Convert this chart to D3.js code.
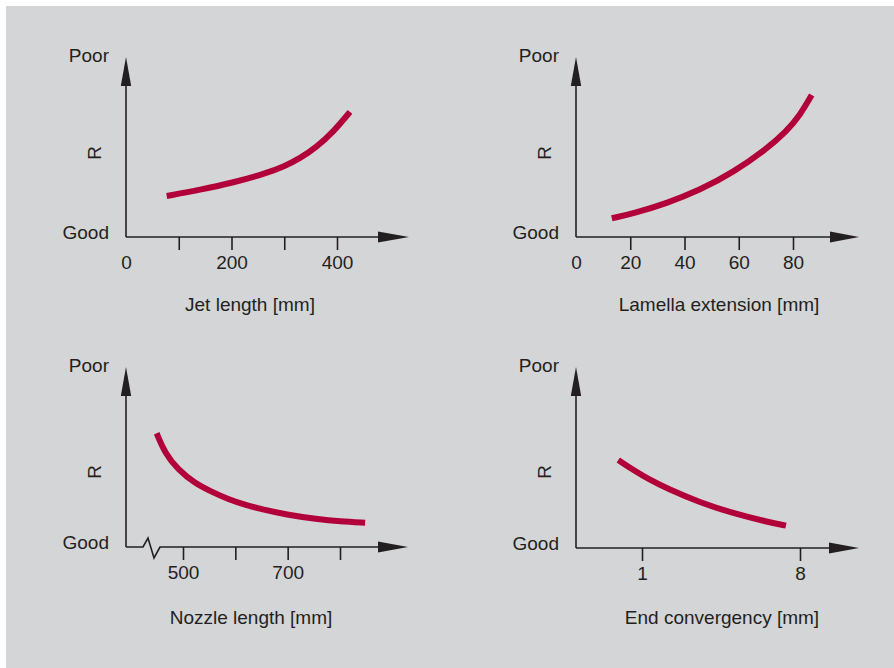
<!DOCTYPE html>
<html>
<head>
<meta charset="utf-8">
<script src="https://cdn.jsdelivr.net/npm/d3@7"></script>
<style>
  html, body { margin: 0; padding: 0; background: #ffffff; }
  svg { display: block; }
  text { font-family: "Liberation Sans", Arial, sans-serif; fill: #231f20; }
</style>
</head>
<body>
<svg id="chart" width="894" height="668"></svg>
<script>
// ---- data ----
const jetLength   = [77.2, 140.3, 203.4, 266.7, 298.2, 329.9, 361.5, 393.0, 424.6];
const jetR        = [2.28, 2.62, 3.02, 3.55, 3.9, 4.37, 5.0, 5.84, 6.95];
const jetTicks    = [0, 100, 200, 300, 400];
const jetLabels   = ["0", "", "200", "", "400"];

const lamellaExt  = [13.2, 21.1, 33.4, 45.7, 58.0, 70.3, 77.7, 82.6, 86.9];
const lamellaR    = [1.04, 1.31, 1.87, 2.61, 3.59, 4.89, 5.89, 6.77, 7.89];
const lamTicks    = [0, 20, 40, 60, 80];
const lamLabels   = ["0", "20", "40", "60", "80"];

const nozzleLength = [449.7, 465.6, 491, 522.9, 554.8, 586.6, 618.5, 650, 697, 756, 800, 848];
const nozzleR      = [6.32, 5.21, 4.28, 3.54, 3.07, 2.65, 2.35, 2.1, 1.8, 1.55, 1.42, 1.35];
const nozTicks     = [500, 600, 700, 800];
const nozLabels    = ["500", "", "700", ""];

const endConv     = [0.732, 0.892, 1.111, 1.384, 2.145, 3.32, 5.16, 6.65];
const endR        = [4.89, 4.33, 3.78, 3.32, 2.52, 1.93, 1.46, 1.24];
const endTicks    = [1, 8];
const endLabels   = ["1", "8"];

const yTop = "Poor", yBottom = "Good", yName = "R";

// ---- layout ----
const svg = d3.select("#chart");
svg.append("rect").attr("x", 6).attr("y", 6).attr("width", 888).attr("height", 662).attr("fill", "#d4d5d7");

const ink = "#231f20", curveColor = "#b2003b";

const panels = [
  { ax: 126, ay: 237, tip: 57, arrowBase: 378, arrowTip: 409,
    x: d3.scaleLinear().domain([0, 400]).range([126, 337]),
    xs: jetLength, ys: jetR, ticks: jetTicks, labels: jetLabels,
    title: "Jet length [mm]", titleX: 250, titleY: 311, rDy: 84, brk: false },
  { ax: 576, ay: 237, tip: 57, arrowBase: 830, arrowTip: 859,
    x: d3.scaleLinear().domain([0, 80]).range([576, 793]),
    xs: lamellaExt, ys: lamellaR, ticks: lamTicks, labels: lamLabels,
    title: "Lamella extension [mm]", titleX: 719, titleY: 311, rDy: 84, brk: false },
  { ax: 126, ay: 547, tip: 367, arrowBase: 378, arrowTip: 408,
    x: d3.scaleLinear().domain([500, 800]).range([183, 340]),
    xs: nozzleLength, ys: nozzleR, ticks: nozTicks, labels: nozLabels,
    title: "Nozzle length [mm]", titleX: 251, titleY: 624, rDy: 75, brk: true },
  { ax: 576, ay: 548, tip: 367, arrowBase: 829, arrowTip: 859,
    x: d3.scaleLog().domain([1, 8]).range([642, 800]),
    xs: endConv, ys: endR, ticks: endTicks, labels: endLabels,
    title: "End convergency [mm]", titleX: 722, titleY: 624, rDy: 76, brk: false }
];

panels.forEach(p => {
  const g = svg.append("g");
  const y = d3.scaleLinear().domain([0, 10]).range([p.ay, p.ay - 180]);

  // y axis line + arrow
  g.append("line").attr("x1", p.ax).attr("x2", p.ax).attr("y1", p.ay).attr("y2", p.tip + 20)
    .attr("stroke", ink).attr("stroke-width", 1.6);
  g.append("path")
    .attr("d", `M${p.ax},${p.tip} L${p.ax + 5.2},${p.tip + 29} L${p.ax - 5.2},${p.tip + 29} Z`)
    .attr("fill", ink);

  // x axis line (with optional break)
  let d;
  if (p.brk) {
    d = `M${p.ax},${p.ay} L${p.ax + 17},${p.ay} L${p.ax + 22},${p.ay - 9} L${p.ax + 28},${p.ay + 11} L${p.ax + 34},${p.ay} L${p.arrowBase + 2},${p.ay}`;
  } else {
    d = `M${p.ax},${p.ay} L${p.arrowBase + 2},${p.ay}`;
  }
  g.append("path").attr("d", d).attr("fill", "none").attr("stroke", ink).attr("stroke-width", 1.6)
    .attr("stroke-linejoin", "miter");
  g.append("path")
    .attr("d", `M${p.arrowTip},${p.ay} L${p.arrowBase},${p.ay - 5.5} L${p.arrowBase},${p.ay + 5.5} Z`)
    .attr("fill", ink);

  // ticks via d3 axis
  const axis = d3.axisBottom(p.x).tickValues(p.ticks)
    .tickFormat((v, i) => p.labels[i]).tickSize(13).tickPadding(6);
  const ag = g.append("g").attr("transform", `translate(0,${p.ay})`).call(axis);
  ag.select(".domain").remove();
  ag.selectAll(".tick line").attr("stroke", ink).attr("stroke-width", 1.6)
    .filter(v => Math.abs(p.x(v) - p.ax) < 1).remove();
  ag.selectAll(".tick text").attr("font-size", 19).attr("fill", ink)
    .attr("font-family", '"Liberation Sans", Arial, sans-serif');

  // y labels
  g.append("text").attr("x", p.ax - 17).attr("y", p.tip + 5).attr("text-anchor", "end")
    .attr("font-size", 19).text(yTop);
  g.append("text").attr("x", p.ax - 17).attr("y", p.ay + 2).attr("text-anchor", "end")
    .attr("font-size", 19).text(yBottom);
  g.append("text")
    .attr("transform", `translate(${p.ax - 25},${p.ay - p.rDy}) rotate(-90)`)
    .attr("text-anchor", "middle").attr("font-size", 19).text(yName);

  // x title
  g.append("text").attr("x", p.titleX).attr("y", p.titleY).attr("text-anchor", "middle")
    .attr("font-size", 19).text(p.title);

  // curve
  const pts = p.xs.map((v, i) => [v, p.ys[i]]);
  const line = d3.line().x(d => p.x(d[0])).y(d => y(d[1])).curve(d3.curveBasis);
  g.append("path").datum(pts).attr("d", line).attr("fill", "none")
    .attr("stroke", curveColor).attr("stroke-width", 6).attr("stroke-linecap", "butt")
    .attr("stroke-linejoin", "round");
});
</script>
</body>
</html>
